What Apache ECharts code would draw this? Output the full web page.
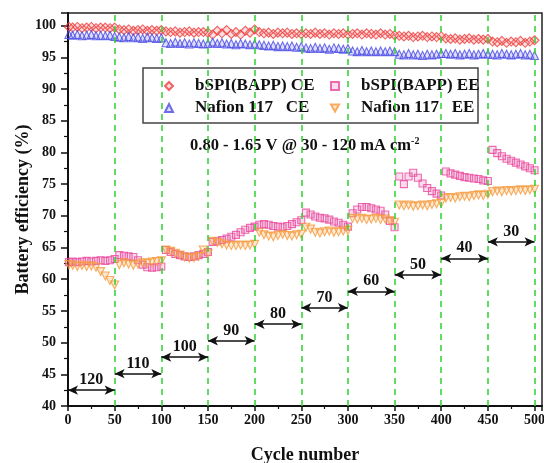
<!DOCTYPE html>
<html>
<head>
<meta charset="utf-8">
<script src="https://cdn.jsdelivr.net/npm/echarts@6/dist/echarts.min.js"></script>
<style>html,body{margin:0;padding:0;background:#fff}#c{width:544px;height:463px}</style>
</head>
<body>
<div id="c"></div>
<script>
const cycles = [1,5,10,15,20,25,30,35,40,45,50,
  55,60,65,70,75,80,85,90,95,100,
  105,110,115,120,125,130,135,140,145,150,
  155,160,165,170,175,180,185,190,195,200,
  205,210,215,220,225,230,235,240,245,250,
  255,260,265,270,275,280,285,290,295,300,
  305,310,315,320,325,330,335,340,345,350,
  355,360,365,370,375,380,385,390,395,400,
  405,410,415,420,425,430,435,440,445,450,
  455,460,465,470,475,480,485,490,495,500];

const bspiCE = [99.8,99.7,99.8,99.6,99.7,99.8,99.6,99.7,99.7,99.6,99.7,
  99.4,99.3,99.4,99.2,99.3,99.4,99.2,99.3,99.2,99.3,
  99.1,99.0,99.1,98.9,99.0,99.1,98.9,99.0,99.0,98.9,
  98.6,99.2,98.8,99.3,98.7,99.0,98.6,99.2,98.9,99.4,
  99.0,98.8,98.9,98.7,98.9,98.8,98.9,98.7,98.8,98.7,
  98.8,98.7,98.9,98.7,98.8,98.6,98.8,98.7,98.8,98.6,
  98.7,98.8,98.6,98.8,98.7,98.6,98.8,98.6,98.7,98.5,
  98.4,98.3,98.4,98.2,98.3,98.4,98.2,98.3,98.2,98.3,
  98.0,97.9,98.0,97.8,97.9,98.0,97.8,97.9,97.8,97.9,
  97.5,97.4,97.6,97.3,97.5,97.4,97.6,97.3,97.5,97.7];

const nafionCE = [98.6,98.5,98.6,98.4,98.5,98.6,98.4,98.5,98.4,98.5,98.3,
  98.2,98.1,98.3,98.1,98.2,98.0,98.2,98.1,98.0,98.1,
  97.3,97.2,97.4,97.2,97.3,97.1,97.3,97.2,97.1,97.2,
  97.4,97.2,97.3,97.1,97.2,97.0,97.2,97.1,97.0,97.1,
  97.0,96.9,96.8,96.9,96.7,96.8,96.7,96.8,96.6,96.7,
  96.5,96.4,96.6,96.4,96.5,96.3,96.5,96.4,96.3,96.4,
  96.0,95.9,96.1,95.9,96.0,95.9,96.0,95.9,96.0,95.9,
  95.5,95.4,95.6,95.4,95.5,95.3,95.5,95.4,95.5,95.6,
  95.6,95.5,95.6,95.4,95.5,95.6,95.4,95.5,95.6,95.5,
  95.5,95.4,95.6,95.5,95.4,95.5,95.6,95.4,95.5,95.3];

const bspiEE = [62.7,62.8,62.7,62.8,62.9,62.8,62.9,63.0,62.9,63.0,63.2,
  63.8,63.7,63.6,63.5,63.0,62.3,61.9,61.8,61.9,62.0,
  64.6,64.3,64.0,63.8,63.6,63.5,63.6,63.8,64.0,64.3,
  65.9,66.0,66.2,66.4,66.7,67.0,67.4,67.8,68.1,68.3,
  68.6,68.7,68.6,68.4,68.3,68.2,68.4,68.7,69.0,69.3,
  70.5,70.2,69.9,69.7,69.6,69.4,69.1,68.9,68.6,68.3,
  70.4,71.0,71.4,71.4,71.2,71.0,70.8,70.2,69.2,68.2,
  76.2,75.0,76.2,76.8,76.0,75.1,74.4,73.9,73.5,73.2,
  77.0,76.7,76.5,76.3,76.1,76.0,75.9,75.8,75.6,75.5,
  80.4,79.9,79.4,79.0,78.7,78.4,78.1,77.8,77.5,77.2];

const nafionEE = [62.3,62.2,62.0,62.2,62.0,62.1,61.9,61.2,60.5,59.8,59.1,
  62.3,62.6,62.4,62.2,62.4,62.6,62.5,62.7,62.8,62.9,
  64.6,64.4,64.1,63.8,63.5,63.3,63.4,63.6,64.6,64.0,
  66.0,65.8,65.6,65.4,65.3,65.3,65.4,65.3,65.4,65.5,
  67.4,67.0,66.8,66.7,66.9,67.1,66.9,66.8,67.0,67.1,
  68.2,67.9,67.4,67.3,67.5,67.6,67.4,67.5,67.6,67.7,
  69.6,69.5,69.6,69.4,69.5,69.6,69.4,69.5,69.2,69.0,
  71.7,71.6,71.7,71.5,71.6,71.7,71.6,71.8,71.9,72.0,
  72.8,72.9,72.8,73.0,73.1,73.0,73.2,73.3,73.2,73.4,
  73.8,73.9,73.8,74.0,73.9,74.0,74.1,74.0,74.1,74.2];

const boundaries = [50,100,150,200,250,300,350,400,450,500];
const segStarts = [0,50,100,150,200,250,300,350,400,450];
const densities = [120,110,100,90,80,70,60,50,40,30];
const arrowLevels = [42.5,45.1,47.7,50.3,52.9,55.5,58.1,60.7,63.3,65.9];
const yTicks = [40,45,50,55,60,65,70,75,80,85,90,95,100];
const xTicks = [0,50,100,150,200,250,300,350,400,450,500];

const FONT = '"Liberation Serif","Times New Roman",serif';
const pair = (xs, ys) => xs.map((x, i) => [x, ys[i]]);

const chart = echarts.init(document.getElementById('c'));
const hollow = (c, f) => ({color: f, borderColor: c, borderWidth: 1.1});

chart.setOption({
  animation: false,
  backgroundColor: '#fff',
  grid: {left: 68, right: 2, top: 13, bottom: 57, show: true, borderColor: '#222', borderWidth: 1.5,
    containLabel: false, outerBoundsMode: 'none'},
  xAxis: {
    type: 'value', min: 0, max: 508, interval: 50,
    name: 'Cycle number', nameLocation: 'middle', nameGap: 40, nameMoveOverlap: false,
    nameTextStyle: {fontFamily: FONT, fontWeight: 'bold', fontSize: 18, color: '#111'},
    axisLine: {lineStyle: {color: '#111', width: 2}},
    axisTick: {length: 5, lineStyle: {color: '#111', width: 1.5}},
    minorTick: {show: true, splitNumber: 2, length: 3, lineStyle: {color: '#111', width: 1.2}},
    splitLine: {show: false},
    axisLabel: {fontFamily: FONT, fontWeight: 'bold', fontSize: 14, color: '#111', margin: 7,
      formatter: v => xTicks.indexOf(v) >= 0 ? String(v) : ''}
  },
  yAxis: {
    type: 'value', min: 40, max: 102, interval: 5,
    name: 'Battery efficiency (%)', nameLocation: 'middle', nameGap: 36, nameMoveOverlap: false,
    nameTextStyle: {fontFamily: FONT, fontWeight: 'bold', fontSize: 18, color: '#111'},
    axisLine: {show: true, lineStyle: {color: '#111', width: 2}},
    axisTick: {length: 7, lineStyle: {color: '#111', width: 1.5}},
    minorTick: {show: true, splitNumber: 2, length: 4, lineStyle: {color: '#111', width: 1.2}},
    splitLine: {show: false},
    axisLabel: {fontFamily: FONT, fontWeight: 'bold', fontSize: 14, color: '#111', margin: 12,
      formatter: v => yTicks.indexOf(v) >= 0 ? String(v) : ''}
  },
  legend: {
    left: 164, top: 77, width: 330, padding: 0, itemGap: 4,
    itemWidth: 8, itemHeight: 8, orient: 'horizontal',
    data: ['bSPI(BAPP) CE', 'bSPI(BAPP) EE', 'Nafion 117   CE', 'Nafion 117   EE'],
    textStyle: {fontFamily: FONT, fontWeight: 'bold', fontSize: 17, color: '#111',
      width: 131, lineHeight: 18, padding: [0, 0, 0, 17]}
  },
  graphic: [
    {type: 'rect', z: 3, shape: {x: 143, y: 68, width: 335, height: 55},
      style: {fill: '#fff', stroke: '#444', lineWidth: 1.5}},
    {type: 'text', z: 5, left: 190, top: 136,
      style: {text: '{a|0.80 - 1.65 V @ 30 - 120 mA cm}{s|-2}',
        rich: {a: {fontFamily: FONT, fontWeight: 'bold', fontSize: 16.5, fill: '#111'},
               s: {fontFamily: FONT, fontWeight: 'bold', fontSize: 10, fill: '#111', padding: [0, 0, 9, 0]}}}}
  ],
  series: [
    {name: 'bSPI(BAPP) CE', type: 'scatter', symbol: 'diamond', symbolSize: 9,
      itemStyle: hollow('#ee3d3d', 'rgba(240,90,90,0.25)'), data: pair(cycles, bspiCE), z: 3},
    {name: 'bSPI(BAPP) EE', type: 'scatter', symbol: 'rect', symbolSize: 7,
      itemStyle: hollow('#e8489e', 'rgba(232,80,160,0.25)'), data: pair(cycles, bspiEE), z: 3},
    {name: 'Nafion 117   CE', type: 'scatter', symbol: 'triangle', symbolSize: 8,
      itemStyle: hollow('#4b4be6', 'rgba(90,90,230,0.25)'), data: pair(cycles, nafionCE), z: 3},
    {name: 'Nafion 117   EE', type: 'scatter', symbol: 'path://M0,0 L10,0 L5,9 Z', symbolSize: 8,
      itemStyle: hollow('#f59a3c', 'rgba(245,160,70,0.3)'), data: pair(cycles, nafionEE), z: 3},
    {name: 'guides', type: 'scatter', data: [], z: 1, silent: true,
      markLine: {silent: true, symbol: 'none', animation: false,
        lineStyle: {color: '#2fcf2f', type: [6, 5], width: 1.5},
        label: {show: false},
        data: boundaries.map(b => ({xAxis: b}))}},
    {name: 'steps', type: 'scatter', data: [], z: 4, silent: true,
      markLine: {silent: true, symbol: ['arrow', 'arrow'], symbolSize: [7, 10], animation: false,
        lineStyle: {color: '#111', type: 'solid', width: 1.5},
        label: {show: true, position: 'insideMiddleTop', distance: 2,
          fontFamily: FONT, fontWeight: 'bold', fontSize: 16, color: '#111'},
        data: densities.map((d, i) => [
          {coord: [segStarts[i], arrowLevels[i]], value: d},
          {coord: [boundaries[i], arrowLevels[i]]}
        ])}}
  ]
});
</script>
</body>
</html>
